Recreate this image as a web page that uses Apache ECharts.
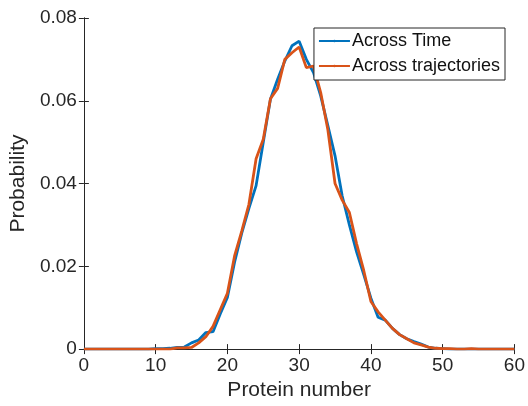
<!DOCTYPE html>
<html>
<head>
<meta charset="utf-8">
<script src="https://cdn.jsdelivr.net/npm/echarts@6/dist/echarts.min.js"></script>
<style>
  html, body { margin: 0; padding: 0; background: #fff; }
  #chart { width: 528px; height: 406px; }
</style>
</head>
<body>
<div id="chart"></div>
<script type="text/javascript">
    // protein number 0..60
    let proteinNumber = [];
    for (let i = 0; i <= 60; i++) proteinNumber.push(i);

    let acrossTime = [
        0, 0, 0, 0, 0, 0, 0, 0, 0, 0,
        0.0001, 0.0001, 0.0002, 0.0004, 0.0005, 0.0015, 0.0022, 0.0040, 0.0042, 0.0085,
        0.0125, 0.021, 0.028, 0.034, 0.0395, 0.050, 0.0604, 0.0652, 0.0696, 0.0733,
        0.0744, 0.070, 0.0668, 0.0612, 0.054, 0.0467, 0.037, 0.030, 0.0235, 0.018,
        0.0123, 0.0077, 0.007, 0.005, 0.0035, 0.0025, 0.0018, 0.0012, 0.0005, 0.0002,
        0.0001, 0, 0, 0, 0, 0, 0, 0, 0, 0, 0
    ];
    let acrossTrajectories = [
        0, 0, 0, 0, 0, 0, 0, 0, 0, 0,
        0, 0, 0, 0.0003, 0.0003, 0.0004, 0.0015, 0.003, 0.0055, 0.0095,
        0.0135, 0.0225, 0.0285, 0.035, 0.046, 0.0507, 0.0605, 0.063, 0.070, 0.0716,
        0.073, 0.068, 0.0684, 0.062, 0.053, 0.040, 0.036, 0.033, 0.0255, 0.019,
        0.0115, 0.009, 0.007, 0.005, 0.0035, 0.0025, 0.0015, 0.001, 0.0005, 0.0002,
        0.0001, 0.0001, 0, 0, 0.0001, 0, 0, 0, 0, 0, 0
    ];
    let seriesNames = ['Across Time', 'Across trajectories'];

    let zip = function (xs, ys) {
        let out = [];
        for (let i = 0; i < xs.length; i++) out.push([xs[i], ys[i]]);
        return out;
    };

    let axisColor = '#262626';
    let font = 'Helvetica, "Liberation Sans", Arial, sans-serif';

    let chart = echarts.init(document.getElementById('chart'));
    let option = {
        animation: false,
        textStyle: { fontFamily: font },
        grid: { left: 81, right: 13, top: 18, bottom: 52 },
        legend: {
            orient: 'vertical',
            right: 23,
            top: 28,
            data: seriesNames,
            backgroundColor: '#fff',
            borderColor: axisColor,
            borderWidth: 1,
            padding: [4, 5, 5, 4],
            itemGap: 7,
            itemWidth: 31,
            itemHeight: 3,
            textStyle: { fontSize: 18, color: '#111', fontFamily: font, padding: [0, 0, 0, -3] }
        },
        xAxis: [{
            type: 'value',
            min: 0, max: 60, interval: 10,
            name: 'Protein number',
            nameLocation: 'middle',
            nameGap: 29,
            nameTextStyle: { fontSize: 21, color: '#262626' },
            axisLine: { lineStyle: { color: axisColor } },
            axisTick: { inside: true, length: 5, lineStyle: { color: axisColor } },
            axisLabel: { fontSize: 19, color: '#262626', margin: 7 },
            splitLine: { show: false }
        }, {
            type: 'value',
            position: 'top',
            min: 0, max: 60, interval: 10,
            axisLine: { show: true, lineStyle: { color: axisColor } },
            axisTick: { show: true, inside: true, length: 5, lineStyle: { color: axisColor } },
            axisLabel: { show: false },
            splitLine: { show: false }
        }],
        yAxis: [{
            type: 'value',
            min: 0, max: 0.08, interval: 0.02,
            name: 'Probability',
            nameLocation: 'middle',
            nameGap: 50,
            nameTextStyle: { fontSize: 21, color: '#262626' },
            axisLine: { show: true, lineStyle: { color: axisColor } },
            axisTick: { show: true, inside: true, length: 5, lineStyle: { color: axisColor } },
            axisLabel: {
                fontSize: 19, color: '#262626', margin: 7,
                formatter: function (v) { return v === 0 ? '0' : v.toFixed(2); }
            },
            splitLine: { show: false }
        }, {
            type: 'value',
            position: 'right',
            min: 0, max: 0.08, interval: 0.02,
            axisLine: { show: true, lineStyle: { color: axisColor } },
            axisTick: { show: true, inside: true, length: 5, lineStyle: { color: axisColor } },
            axisLabel: { show: false },
            splitLine: { show: false }
        }],
        series: [
            {
                name: seriesNames[0],
                type: 'line',
                data: zip(proteinNumber, acrossTime),
                showSymbol: false,
                symbol: 'none',
                lineStyle: { width: 2.8, color: '#0072BD' },
                itemStyle: { color: '#0072BD' }
            },
            {
                name: seriesNames[1],
                type: 'line',
                data: zip(proteinNumber, acrossTrajectories),
                showSymbol: false,
                symbol: 'none',
                lineStyle: { width: 2.8, color: '#D95319' },
                itemStyle: { color: '#D95319' }
            }
        ]
    };
    chart.setOption(option);
</script>
</body>
</html>
